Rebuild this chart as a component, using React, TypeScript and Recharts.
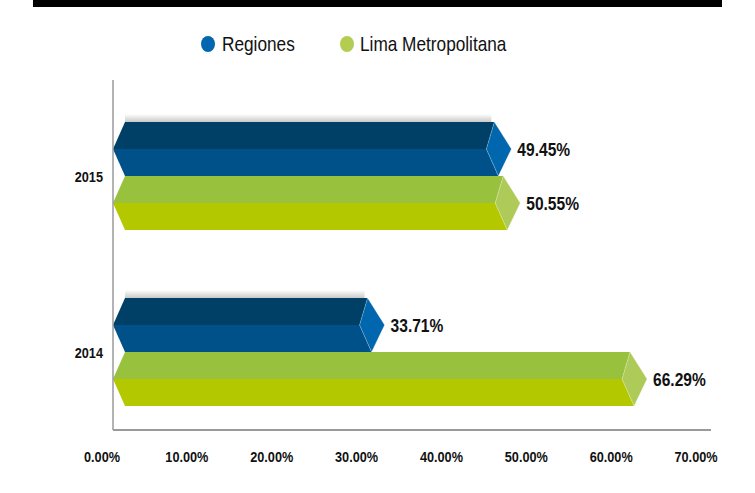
import { Bar, BarChart, LabelList, XAxis, YAxis } from "recharts";

const years = ["2015", "2014"];
const regiones = [49.45, 33.71];
const lima = [50.55, 66.29];
const xTicks = [0, 10, 20, 30, 40, 50, 60, 70];

// no narrow font installed, so Liberation Sans squeezed horizontally
const FONT = "'Liberation Sans', Arial, sans-serif";
const SQUEEZE = 0.82;

const data = years.map((year, i) => ({ year, regiones: regiones[i], lima: lima[i] }));

interface IColors {
    upper: string;
    lower: string;
    cap: string;
}

const blue: IColors = { upper: "#004066", lower: "#00518A", cap: "#0067AF" };
const green: IColors = { upper: "#98C13E", lower: "#B4C800", cap: "#AECB5A" };

function NarrowText({ x, y, text, anchor, dy, size }: { x: number; y: number; text: string; anchor: string; dy: string; size: number }) {
    return (
        <text
            x={0}
            y={0}
            dy={dy}
            textAnchor={anchor as any}
            transform={`translate(${x},${y}) scale(${SQUEEZE},1)`}
            fill="#111"
            fontFamily={FONT}
            fontSize={size}
            fontWeight="bold"
        >
            {text}
        </text>
    );
}

function PrismBar(props: any, colors: IColors, shadow: boolean) {
    const { x, y, width, height } = props;
    const L = x;
    const R = x + width;
    const top = y;
    const bot = y + height;
    const mid = y + height / 2;
    const p = (pts: number[][]) => pts.map((q) => q.join(",")).join(" ");
    return (
        <g>
            {shadow && (
                <rect x={L + 12} y={top - 8} width={Math.max(0, width - 32)} height={8} fill="url(#barShadow)" />
            )}
            <polygon points={p([[L, mid], [L + 12, top], [R - 17, top], [R - 25, mid]])} fill={colors.upper} />
            <polygon points={p([[L, mid], [R - 25, mid], [R - 13, bot], [L + 12, bot]])} fill={colors.lower} />
            <polygon
                points={p([[R - 17, top], [R, mid], [R - 13, bot], [R - 25, mid]])}
                fill={colors.cap}
                stroke="rgba(255,255,255,0.35)"
                strokeWidth={0.7}
            />
        </g>
    );
}

const pct = (v: any) => Number(v).toFixed(2) + "%";

function ValueLabel(props: any) {
    const { x, y, width, height, value } = props;
    return <NarrowText x={x + width + 6} y={y + height / 2} text={pct(value)} anchor="start" dy="0.355em" size={19} />;
}

export default function App() {
    return (
        <div style={{ position: "absolute", left: 0, top: 0, width: 755, height: 493, background: "#fff" }}>
            <div style={{ position: "absolute", left: 33, top: 0, width: 689, height: 7, background: "#000" }} />
            {/* legend */}
            <div style={{ position: "absolute", top: 30, left: 0, width: 755, height: 28, fontFamily: FONT, fontSize: 21, color: "#111" }}>
                <span style={{ position: "absolute", left: 201, top: 6, width: 14, height: 16, borderRadius: "50%", background: "#0066B0" }} />
                <span style={{ position: "absolute", left: 222, top: 2, lineHeight: "24px", transform: `scaleX(${SQUEEZE})`, transformOrigin: "left", whiteSpace: "nowrap" }}>Regiones</span>
                <span style={{ position: "absolute", left: 340, top: 6, width: 14, height: 16, borderRadius: "50%", background: "#B2CD52" }} />
                <span style={{ position: "absolute", left: 360, top: 2, lineHeight: "24px", transform: `scaleX(${SQUEEZE})`, transformOrigin: "left", whiteSpace: "nowrap" }}>Lima Metropolitana</span>
            </div>
            <BarChart
                width={755}
                height={493}
                layout="vertical"
                data={data}
                barGap={0}
                margin={{ top: 80, right: 44, bottom: 23, left: 53 }}
                style={{ position: "absolute", left: 0, top: 0 }}
            >
                <defs>
                    <linearGradient id="barShadow" x1="0" y1="0" x2="0" y2="1">
                        <stop offset="0%" stopColor="#ffffff" />
                        <stop offset="100%" stopColor="#c9c9c9" />
                    </linearGradient>
                </defs>
                <XAxis
                    xAxisId="ticks"
                    type="number"
                    domain={[0, 70.47]}
                    ticks={xTicks}
                    allowDataOverflow
                    height={40}
                    tickLine={false}
                    tickSize={0}
                    tickMargin={21}
                    axisLine={{ stroke: "#9a9a9a", strokeWidth: 2 }}
                    tick={(t: any) => (
                        <NarrowText x={t.x - 11} y={t.y} text={pct(t.payload.value)} anchor="middle" dy="0.71em" size={15.5} />
                    )}
                />
                <XAxis xAxisId="bars" type="number" domain={[0, 74.23]} hide height={0} allowDataOverflow />
                <YAxis
                    type="category"
                    dataKey="year"
                    width={60}
                    padding={{ top: 8, bottom: -10 }}
                    tickLine={false}
                    tickSize={0}
                    tickMargin={10}
                    axisLine={{ stroke: "#9a9a9a", strokeWidth: 1.5 }}
                    tick={(t: any) => (
                        <NarrowText x={t.x} y={t.y} text={String(t.payload.value)} anchor="end" dy="0.355em" size={15.5} />
                    )}
                />
                <Bar
                    xAxisId="bars"
                    dataKey="regiones"
                    barSize={54}
                    isAnimationActive={false}
                    shape={(p: any) => PrismBar(p, blue, true)}
                >
                    <LabelList dataKey="regiones" content={ValueLabel} />
                </Bar>
                <Bar
                    xAxisId="bars"
                    dataKey="lima"
                    barSize={54}
                    isAnimationActive={false}
                    shape={(p: any) => PrismBar(p, green, false)}
                >
                    <LabelList dataKey="lima" content={ValueLabel} />
                </Bar>
            </BarChart>
        </div>
    );
}
